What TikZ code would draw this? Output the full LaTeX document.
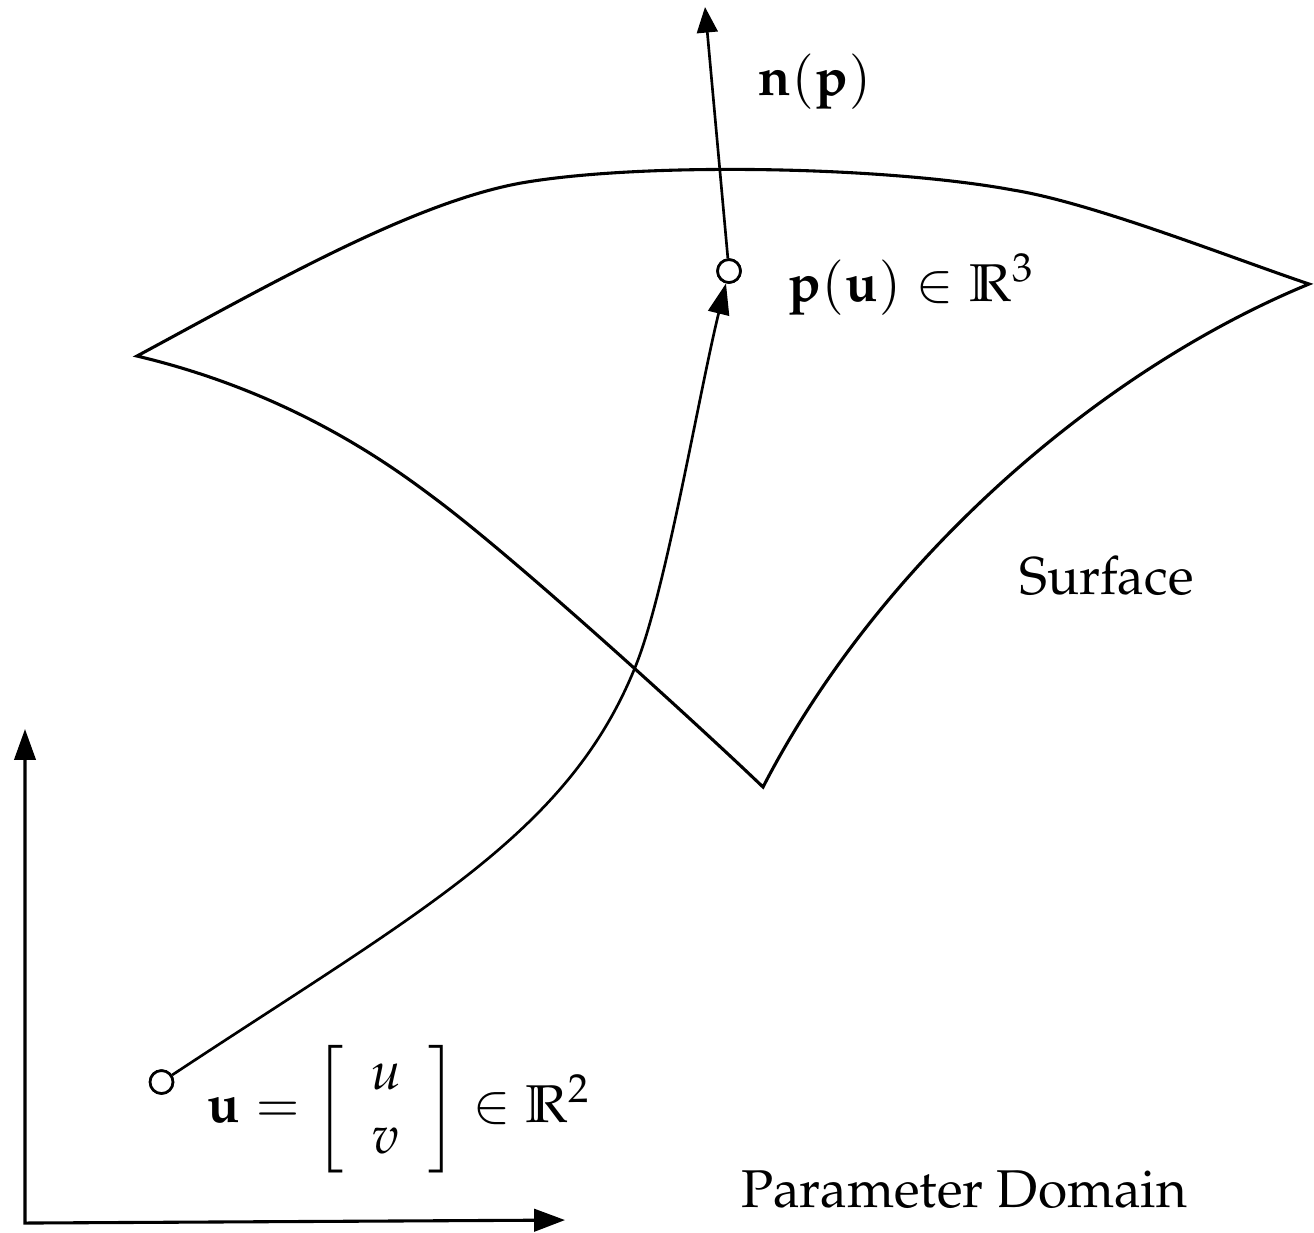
\documentclass[tikz,border=0pt]{standalone}
\usepackage[T1]{fontenc}
\usepackage{mathpazo}
\usepackage{amssymb}
\usetikzlibrary{arrows.meta}
\tikzset{
  surf/.style={line width=0.58pt, line join=miter},
  conn/.style={line width=0.5pt},
  axis/.style={line width=0.58pt},
  bigtip/.style={-{Triangle[length=5.8pt,width=4pt]}},
  dot/.style={circle, draw, fill=white, inner sep=0pt, minimum size=4.3pt, line width=0.5pt},
  lbl/.style={inner sep=0pt, anchor=base west}
}
\begin{document}
\begin{tikzpicture}[x=0.188pt,y=-0.188pt]
\useasboundingbox (0,0) rectangle (1314,1232);
% surface patch
\draw[surf] (137,356) .. controls (267,286) and (411,203) .. (521,183)
  .. controls (641,162) and (883,166) .. (1013,190)
  .. controls (1093,203) and (1229,257) .. (1309,284)
  .. controls (1100,370) and (880,560) .. (763,787)
  .. controls (693,720) and (517,560) .. (437,500)
  .. controls (397,470) and (297,394) .. (137,356) -- cycle;
% points
\node[dot] (pc) at (729,271) {};
\node[dot] (uc) at (161.5,1082) {};
\coordinate (ntip) at (705,7);
\coordinate (cm) at (636,665);
% mapping curve
\draw[conn, bigtip] (uc) .. controls (423.5,909) and (569.4,832.4) .. (cm)
  .. controls (666,590) and (699,393) .. (pc);
% normal
\draw[conn, -{Triangle[length=4.8pt,width=3.9pt]}] (pc) -- (ntip);
\node[dot] at (pc) {};
\node[dot] at (uc) {};
% axes
\coordinate (o) at (25,1223);
\coordinate (vt) at (25,729);
\coordinate (ht) at (565,1220);
\draw[axis, {Triangle[length=5.8pt,width=4pt]}-{Triangle[length=5.8pt,width=4.2pt]}] (vt) -- (o) -- (ht);
% labels
\node[lbl] (nlab) at (757,95) {$\mathbf{n}(\mathbf{p})$};
\node[lbl] (plab) at (787,301) {$\mathbf{p}(\mathbf{u})\in\mathbb{R}^3$};
\node[lbl] (slab) at (1018,594) {Surface};
\node[lbl] (dlab) at (740,1207) {Parameter Domain};
\node[lbl] (ulab) at (206,1122) {$\mathbf{u}=\left[\begin{array}{c} u\\ v\end{array}\right]\in\mathbb{R}^2$};
\end{tikzpicture}
\end{document}
